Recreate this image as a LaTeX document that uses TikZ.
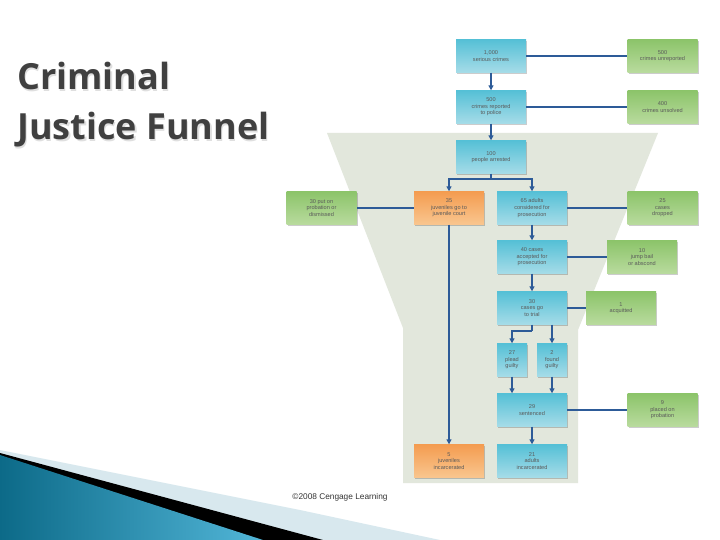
\documentclass[tikz,border=0pt]{standalone}
\usepackage{fontspec}
\setmainfont{Liberation Sans}
\newfontfamily\titlefont{Open Sans}
\usetikzlibrary{arrows.meta,shadows}
\definecolor{cyanT}{HTML}{55C0D6}
\definecolor{cyanB}{HTML}{A6DCE8}
\definecolor{greenT}{HTML}{8CC46A}
\definecolor{greenB}{HTML}{B9DB9E}
\definecolor{orangeT}{HTML}{F49C50}
\definecolor{orangeB}{HTML}{F9C68F}
\definecolor{boxtext}{HTML}{5A5A5A}
\definecolor{linkc}{HTML}{2D5B98}
\definecolor{funnelc}{HTML}{E2E7DC}
\definecolor{titlec}{HTML}{404040}
\definecolor{swooshA}{HTML}{0C6A88}
\definecolor{swooshB}{HTML}{52B6D8}
\definecolor{palec}{HTML}{D8E8EE}
\begin{document}
\begin{tikzpicture}[x=1bp,y=-1bp,
  box/.style={draw=none, minimum width=70bp, minimum height=33bp, inner sep=1bp,
    align=center, font=\fontsize{5.6bp}{6.6bp}\selectfont, text=boxtext,
    drop shadow={shadow xshift=1.2bp, shadow yshift=-1.2bp, opacity=0.2, fill=black}},
  cbox/.style={box, top color=cyanT, bottom color=cyanB},
  gbox/.style={box, top color=greenT, bottom color=greenB},
  obox/.style={box, top color=orangeT, bottom color=orangeB},
  link/.style={draw=linkc, line width=2bp},
  arr/.style={link, -{Triangle[length=5bp,width=5bp]}},
  ttl/.style={anchor=base west, font=\titlefont\bfseries\fontsize{36bp}{50bp}\selectfont, inner sep=0}
]
\useasboundingbox (0,0) rectangle (720,540);
\fill[white] (0,0) rectangle (720,540);

% funnel
\fill[funnelc] (327,133) -- (658,133) -- (578,330) -- (578,483) -- (403,483) -- (403,328) -- cycle;

% bottom-left swoosh
\fill[palec] (0,450) -- (140,478) -- (300,510) -- (440,540) -- (0,540) -- cycle;
\fill[black] (0,453) -- (323,540) -- (0,540) -- cycle;
\shade[left color=swooshA, right color=swooshB] (0,455) -- (263,540) -- (0,540) -- cycle;

% title
\node[ttl, text=gray!25] at (18.5,91.5) {Criminal};
\node[ttl, text=gray!25] at (18.5,141.5) {Justice Funnel};
\node[ttl, text=titlec] (t1) at (17,90) {Criminal};
\node[ttl, text=titlec] (t2) at (17,140) {Justice Funnel};

% boxes
\node[cbox] (s1) at (491,56) {1,000\\serious crimes};
\node[gbox] (g1) at (662.5,56) {500\\crimes unreported};
\node[cbox] (s2) at (491,107) {500\\crimes reported\\to police};
\node[gbox] (g2) at (662.5,107) {400\\crimes unsolved};
\node[cbox] (s3) at (491,157) {100\\people arrested};
\node[gbox] (g3) at (321.5,208) {30 put on\\probation or\\dismissed};
\node[obox] (o1) at (449,208) {35\\juveniles go to\\juvenile court};
\node[cbox] (s4) at (532,208) {65 adults\\considered for\\prosecution};
\node[gbox] (g4) at (662.5,208) {25\\cases\\dropped};
\node[cbox] (s5) at (532,257) {40 cases\\accepted for\\prosecution};
\node[gbox] (g5) at (642,257) {10\\jump bail\\or abscond};
\node[cbox] (s6) at (532,308) {30\\cases go\\to trial};
\node[gbox] (g6) at (621,308) {1\\acquitted};
\node[cbox, minimum width=30bp] (s7) at (512,360) {27\\plead\\guilty};
\node[cbox, minimum width=30bp] (s8) at (552,360) {2\\found\\guilty};
\node[cbox] (s9) at (532,410) {29\\sentenced};
\node[gbox] (g7) at (662.5,410) {9\\placed on\\probation};
\node[obox] (o2) at (449,461) {5\\juveniles\\incarcerated};
\node[cbox] (s10) at (532,461) {21\\adults\\incarcerated};

\node[anchor=center, font=\fontsize{8.3bp}{9bp}\selectfont, text=black!80, inner sep=0] (cr) at (340,497) {©2008 Cengage Learning};

% connectors
\draw[arr] (s1) -- (s2);
\draw[arr] (s2) -- (s3);
\draw[link] (s1) -- (g1);
\draw[link] (s2) -- (g2);
\coordinate (j) at (491,179);
\draw[link] (s3) -- (j);
\draw[arr] (j) -| (o1);
\draw[arr] (j) -| (s4);
\draw[link] (o1) -- (g3);
\draw[link] (s4) -- (g4);
\draw[arr] (s4) -- (s5);
\draw[arr] (s5) -- (s6);
\draw[link] (s5) -- (g5);
\draw[link] (s6) -- (g6);
\coordinate (k) at (532,331);
\draw[link] (s6) -- (k);
\draw[arr] (k) -| (s7);
\draw[arr] (s6.south -| s8) -- (s8);
\draw[arr] (s7) -- (s7 |- s9.north);
\draw[arr] (s8) -- (s8 |- s9.north);
\draw[link] (s9) -- (g7);
\draw[arr] (s9) -- (s10);
\draw[arr] (o1) -- (o2);
\end{tikzpicture}
\end{document}
